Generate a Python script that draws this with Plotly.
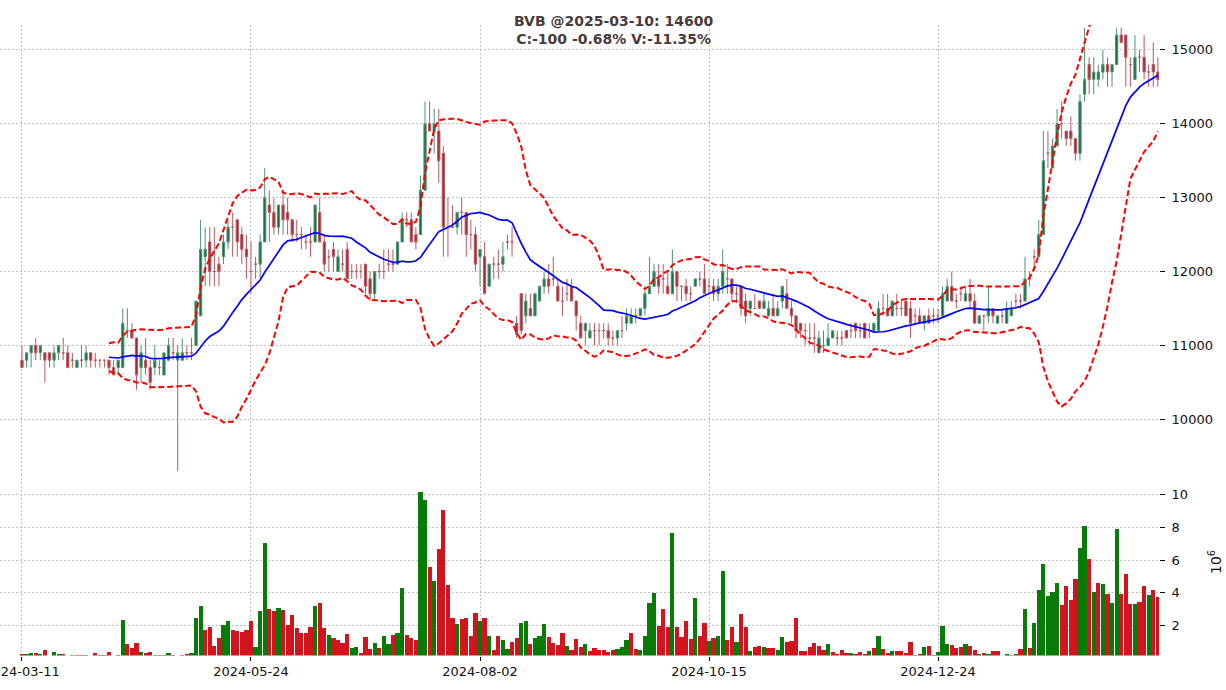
import plotly.graph_objects as go
import pandas as pd

symbol = "BVB"
last_date = "2025-03-10"
tick_pos = [0, 50, 100, 150, 200]
tick_labels = ["2024-03-11", "2024-05-24", "2024-08-02", "2024-10-15", "2024-12-24"]

opens = [
    10800,10800,10900,11000,10900,10900,10900,10800,10900,10900,
    10900,10800,10700,10800,10800,10900,10800,10800,10800,10800,
    10700,10700,10700,11200,11200,11100,10700,10800,10700,10700,
    10700,10600,10800,10900,10800,10800,10900,10900,11000,11400,
    12200,12400,12000,12100,12200,12400,12600,12700,12500,12300,
    12000,12100,12100,12400,12900,12800,12600,12900,12800,12700,
    12500,12500,12400,12400,12400,12800,12400,12200,12300,12000,
    12100,12300,12000,12000,12000,12100,11900,11700,12000,12000,
    12100,12100,12100,12400,12700,12700,12500,12500,13100,14000,
    13900,13900,13600,12600,12600,12600,12800,12800,12500,12500,
    12200,12200,11800,12100,12100,12100,12400,12400,11300,11700,
    11400,11500,11400,11600,11800,11900,11900,11800,11600,11700,
    11800,11600,11300,11200,11100,11200,11200,11200,11200,11100,
    11100,11200,11300,11300,11400,11400,11500,11700,11800,11900,
    11900,11800,11700,12000,11800,11800,11700,11800,11900,11900,
    11800,11800,11700,11800,11900,11900,11700,11800,11600,11500,
    11500,11600,11500,11400,11500,11400,11600,11700,11500,11400,
    11300,11200,11100,11100,10900,11000,11000,11100,11100,11100,
    11200,11200,11300,11200,11300,11200,11200,11200,11500,11500,
    11400,11500,11500,11600,11500,11400,11400,11300,11400,11400,
    11400,11400,11600,11800,11600,11700,11600,11700,11600,11300,
    11400,11400,11500,11300,11400,11300,11400,11600,11600,11600,
    11900,12200,12200,12500,13600,13400,13700,14000,13900,13900,
    13800,13600,14400,14800,14600,14600,14700,14800,14700,14800,
    15200,15200,14800,14600,14900,14900,14700,14800,14700,
]
highs = [
    11000,10900,11000,11100,11000,10900,10900,11000,11000,11100,
    11000,10900,10800,11000,11000,10900,10900,10800,10800,10800,
    10800,10800,11500,11500,11300,11100,11000,11100,10800,11000,
    10800,10900,11100,11100,11000,11100,11000,11100,11600,12700,
    12600,12600,12600,12200,12500,12700,12800,12700,12600,12500,
    12400,12200,12500,13400,13100,13000,12900,13100,13000,12700,
    12700,12600,12500,12600,12900,13000,12500,12300,12400,12300,
    12300,12400,12100,12100,12100,12100,12000,12000,12100,12300,
    12300,12300,12400,12800,12800,12800,12600,13300,14300,14300,
    14200,14200,13700,13000,12900,12800,13000,12800,12700,12600,
    12300,12400,12100,12200,12300,12400,12500,12600,11400,11700,
    11700,11700,11700,11800,12000,12100,12200,11900,11800,11900,
    11900,11600,11400,11300,11300,11300,11300,11300,11300,11200,
    11200,11400,11500,11500,11500,11500,11800,12200,12100,12100,
    12100,12000,12300,12000,11800,11900,11800,11900,12000,12100,
    11900,11900,11900,12300,12100,11900,11800,11800,11700,11600,
    11700,11600,11700,11600,11700,11600,11800,11900,11600,11400,
    11300,11300,11300,11300,11200,11200,11300,11200,11200,11200,
    11200,11300,11300,11300,11300,11300,11300,11600,11700,11700,
    11600,11700,11600,11600,11600,11500,11500,11400,11500,11500,
    11500,11800,11900,12000,11700,11800,11800,11900,11700,11400,
    11400,11800,11500,11400,11500,11600,11600,11700,11700,12200,
    12000,12300,12700,13900,13900,13800,14200,14300,13900,14100,
    13800,14400,15300,14900,14900,14800,15000,14900,14800,15300,
    15300,15200,14900,15200,15000,15200,14800,15100,14900,
]
lows = [
    10700,10700,10700,10800,10800,10500,10700,10700,10800,10800,
    10700,10700,10700,10700,10700,10700,10700,10700,10700,10600,
    10600,10600,10700,11100,11100,10400,10500,10600,10400,10600,
    10600,10600,10800,10800,9300,10800,10800,10800,11000,11400,
    11800,11800,11800,11800,12100,12300,12200,12200,12100,11900,
    11700,11900,11900,12400,12400,12500,12500,12500,12500,12400,
    12400,12300,12300,12200,12400,12400,12000,12000,12000,12000,
    12000,11900,11900,11900,11900,11700,11600,11600,11900,11900,
    12000,12000,12100,12400,12600,12400,12300,12500,13100,13900,
    13600,13200,12200,12200,12600,12500,12500,12200,12300,12000,
    11800,11700,11800,11900,11900,12000,12300,12200,11100,11150,
    11300,11400,11400,11600,11700,11700,11800,11600,11400,11600,
    11600,11200,11100,11000,11100,11000,11000,11100,11000,11000,
    11000,11100,11200,11300,11300,11400,11400,11700,11800,11700,
    11700,11700,11700,11600,11600,11600,11600,11800,11800,11700,
    11700,11600,11600,11700,11700,11600,11600,11400,11300,11400,
    11500,11500,11500,11400,11400,11400,11500,11500,11300,11100,
    11100,11000,11000,10900,10900,10900,11000,11100,11000,11000,
    11100,11100,11100,11100,11100,11100,11200,11200,11400,11400,
    11400,11400,11400,11400,11100,11300,11300,11200,11300,11300,
    11300,11400,11600,11600,11500,11600,11600,11500,11300,11300,
    11200,11300,11300,11300,11300,11300,11400,11500,11500,11600,
    11800,12000,12200,12500,13400,13400,13700,13800,13700,13700,
    13500,13500,14300,14400,14400,14500,14600,14500,14500,14800,
    15100,14500,14500,14600,14700,14600,14500,14500,14500,
]
closes = [
    10700,10900,11000,10900,11000,10800,10800,10900,11000,10900,
    10700,10800,10800,10800,10900,10800,10800,10800,10800,10700,
    10600,10800,11300,11200,11100,10600,10900,10700,10500,10800,
    10700,10900,11000,10900,10900,10900,10900,10900,11600,12300,
    12300,12000,12000,12000,12400,12600,12600,12400,12300,12200,
    12000,12100,12400,13000,12800,12600,12900,12700,12700,12500,
    12500,12500,12400,12400,12900,12400,12100,12200,12200,12200,
    12100,11900,12000,12000,12000,11800,11700,12000,12000,12000,
    12100,12100,12400,12700,12700,12400,12400,13100,14000,13900,
    14000,13500,12600,12600,12600,12800,12800,12500,12500,12100,
    12300,11700,12100,12100,12100,12200,12400,12400,11150,11200,
    11600,11400,11700,11800,11900,11800,11900,11600,11600,11700,
    11600,11400,11100,11300,11200,11200,11200,11200,11100,11100,
    11200,11200,11400,11400,11400,11500,11700,11800,12000,11800,
    11900,11700,12000,11800,11800,11700,11700,11900,11900,11700,
    11800,11700,11800,12000,11900,11700,11700,11500,11400,11600,
    11500,11500,11600,11500,11400,11500,11800,11500,11400,11200,
    11200,11200,11100,11100,11100,11000,11100,11200,11100,11100,
    11100,11200,11200,11200,11100,11200,11300,11500,11500,11400,
    11600,11500,11500,11400,11300,11400,11300,11400,11300,11400,
    11400,11700,11800,11600,11600,11700,11700,11600,11300,11400,
    11400,11500,11400,11400,11400,11500,11500,11600,11600,11900,
    11900,12200,12500,13500,13600,13700,14000,14000,13800,13800,
    13600,14300,14600,14600,14700,14700,14800,14700,14800,15200,
    15100,14900,14800,14900,14900,14700,14700,14700,14600,
]
# volume in millions
volumes = [
    0.28,0.28,0.34,0.34,0.23,0.52,0.10,0.40,0.28,0.23,
    0.10,0.21,0.21,0.21,0.21,0.10,0.34,0.21,0.21,0.40,
    0.10,0.21,2.31,0.89,0.65,0.95,0.40,0.34,0.40,0.21,
    0.21,0.21,0.34,0.21,0.10,0.21,0.28,0.34,2.49,3.17,
    1.75,1.94,0.77,1.26,2.06,2.25,1.75,1.69,1.63,1.75,
    2.25,0.71,2.86,7.05,2.98,2.86,3.10,2.92,2.06,2.62,
    1.82,1.57,1.57,1.94,3.17,3.35,1.82,1.45,1.26,1.14,
    0.95,1.51,0.65,0.71,0.34,1.32,0.58,0.95,0.65,1.38,
    0.89,1.45,1.57,4.28,1.45,1.26,1.14,10.18,9.69,5.57,
    4.71,6.68,9.08,4.46,2.49,2.12,2.37,2.49,1.38,2.74,
    2.25,2.43,1.38,0.52,1.38,1.14,0.58,1.01,1.26,2.18,
    2.25,0.89,1.26,1.38,2.12,1.32,0.95,0.83,1.57,0.77,
    0.52,1.20,0.71,0.89,0.46,0.65,0.52,0.52,0.40,0.52,
    0.58,0.71,1.14,1.57,0.58,0.52,1.38,3.35,3.97,2.00,
    2.98,1.94,7.66,1.94,1.32,2.25,1.20,3.66,1.38,2.18,
    1.08,1.26,1.38,5.32,1.14,1.88,1.01,2.68,1.94,0.46,
    0.71,0.77,0.71,0.65,0.65,0.52,1.32,1.01,1.08,2.49,
    0.46,0.46,0.71,0.95,0.77,0.52,0.89,0.40,0.28,0.52,
    0.34,0.34,0.28,0.40,0.28,0.46,0.65,1.33,0.58,0.34,
    0.46,0.46,0.46,0.34,1.01,0.21,0.28,0.71,0.77,0.21,
    0.40,2.00,0.89,0.83,0.65,0.71,0.89,0.77,0.52,0.28,
    0.34,0.28,0.46,0.46,0.10,0.28,0.21,0.28,0.58,2.98,
    0.65,2.18,4.15,5.75,3.78,4.03,4.58,3.23,4.40,3.54,
    4.83,6.74,8.09,6.06,4.03,4.58,4.52,3.91,3.35,7.90,
    3.91,5.14,3.29,3.29,3.42,4.40,3.85,4.20,3.7233,
]
# volume bar direction (g = up vs previous close, r = down/unchanged)
vol_dir = (
    "rggrgrrggr" "rgrrgrrrrr" "rggrrrgrrg" "rggrrrrggg" "rrrrggrrrr"
    "rgggrrgrrr" "rrrrgrrgrr" "rrggrrrgrg" "grggrrrggr" "grrrrgrrrr"
    "grgrrggrrg" "grgggrrrrg" "rrrgrrrrrr" "gggrrggggr" "rrgrrrrgrr"
    "grggrrgrrg" "rrgrrggrrr" "rrrrrrgrrr" "rgrrrgrgrr" "grrrrgrgrr"
    "gggrrrgrrg" "rgrrrgrgrg" "rggggggrrr" "rggrgrgrgg" "rrrgrrgrr"
)

n = len(closes)
xs = list(range(n))

s = pd.Series(closes, dtype=float)
ma = s.rolling(20).mean()
sd = s.rolling(20).std()
upper = ma + 2 * sd
lower = ma - 2 * sd

UP_BODY, UP_WICK = "#1a6b45", "#4f9473"
DN_BODY, DN_WICK = "#9c2b35", "#b9595f"
VOL_UP, VOL_DN = "#077a07", "#d2141e"
GRID = "#c2c2c2"

fig = go.Figure()

def add_candles(idx, wick, body):
    fig.add_trace(go.Candlestick(
        x=[xs[i] for i in idx],
        open=[opens[i] for i in idx],
        high=[highs[i] for i in idx],
        low=[lows[i] for i in idx],
        close=[closes[i] for i in idx],
        increasing=dict(line=dict(color=wick, width=1), fillcolor=body),
        decreasing=dict(line=dict(color=wick, width=1), fillcolor=body),
        whiskerwidth=0,
        xaxis="x", yaxis="y", showlegend=False, hoverinfo="skip",
    ))

up_idx = [i for i in xs if closes[i] > opens[i]]
dn_idx = [i for i in xs if closes[i] <= opens[i]]
add_candles(up_idx, UP_WICK, UP_BODY)
add_candles(dn_idx, DN_WICK, DN_BODY)

fig.add_trace(go.Scatter(x=xs, y=upper, mode="lines",
                         line=dict(color="#ff0000", width=2, dash="6px,3px"),
                         xaxis="x", yaxis="y", showlegend=False, hoverinfo="skip"))
fig.add_trace(go.Scatter(x=xs, y=lower, mode="lines",
                         line=dict(color="#ff0000", width=2, dash="6px,3px"),
                         xaxis="x", yaxis="y", showlegend=False, hoverinfo="skip"))
fig.add_trace(go.Scatter(x=xs, y=ma, mode="lines",
                         line=dict(color="#0000ff", width=1.7),
                         xaxis="x", yaxis="y", showlegend=False, hoverinfo="skip"))

fig.add_trace(go.Bar(
    x=xs, y=volumes, width=0.92,
    marker=dict(color=[VOL_UP if d == "g" else VOL_DN for d in vol_dir], line=dict(width=0)),
    xaxis="x2", yaxis="y2", showlegend=False, hoverinfo="skip",
))

chg = closes[-1] - closes[-2]
pct = chg / closes[-2] * 100
vchg = (volumes[-1] / volumes[-2] - 1) * 100
title = (f"<b>{symbol} @{last_date}: {closes[-1]}<br>"
         f"C:{chg:+d} {pct:+.2f}% V:{vchg:+.2f}%</b>").replace("+", "")

W, H = 1226, 690
xr = [-4.8, 248.25]
xdom = [0, 1159 / W]
price_dom = [1 - 474 / H, 1 - 25 / H]
vol_dom = [1 - 655.5 / H, 1 - 474 / H]
font = dict(family="DejaVu Sans", size=13, color="#111111")

axis_common = dict(showline=False, zeroline=False, showgrid=True, gridcolor=GRID,
                   gridwidth=0.8, griddash="2px,2px")

fig.update_layout(
    width=W, height=H, margin=dict(l=0, r=0, t=0, b=0),
    paper_bgcolor="white", plot_bgcolor="white", font=font,
    bargap=0, showlegend=False,
    xaxis=dict(domain=xdom, range=xr, anchor="y", tickvals=tick_pos, showticklabels=False,
               ticks="", rangeslider=dict(visible=False), automargin=False, **axis_common),
    xaxis2=dict(domain=xdom, range=xr, anchor="y2", tickvals=tick_pos, ticktext=tick_labels,
                ticks="outside", ticklen=4, tickcolor="#000000", tickwidth=1,
                tickfont=dict(size=13, color="#111111"), automargin=False,
                ticklabeloverflow="allow",
                rangeslider=dict(visible=False), **axis_common),
    yaxis=dict(domain=price_dom, range=[9260, 15336], anchor="x", side="right",
               tickvals=[10000, 11000, 12000, 13000, 14000, 15000], tickformat="d",
               ticks="outside", ticklen=5, tickcolor="#000000", tickwidth=1,
               ticklabelstandoff=4, automargin=False, **axis_common),
    yaxis2=dict(domain=vol_dom, range=[0.168, 11.26], anchor="x2", side="right",
                tickvals=[2, 4, 6, 8, 10], tickformat="d", ticks="outside", ticklen=5,
                tickcolor="#000000", tickwidth=1, ticklabelstandoff=4, automargin=False,
                **axis_common),
    annotations=[
        dict(text=title, x=0.5, y=1 - 11 / H, xref="paper", yref="paper",
             xanchor="center", yanchor="top", showarrow=False, align="center",
             font=dict(family="DejaVu Sans", size=14, color="#4a3b3b")),
        dict(text="10<sup>6</sup>", x=1215 / W, y=1 - 562 / H, xref="paper", yref="paper",
             xanchor="center", yanchor="middle", showarrow=False, textangle=-90,
             font=dict(family="DejaVu Sans", size=14, color="#111111")),
    ],
)

fig.write_html("out.html", config={"displayModeBar": False},
               post_script="document.body.style.margin='0px';")
